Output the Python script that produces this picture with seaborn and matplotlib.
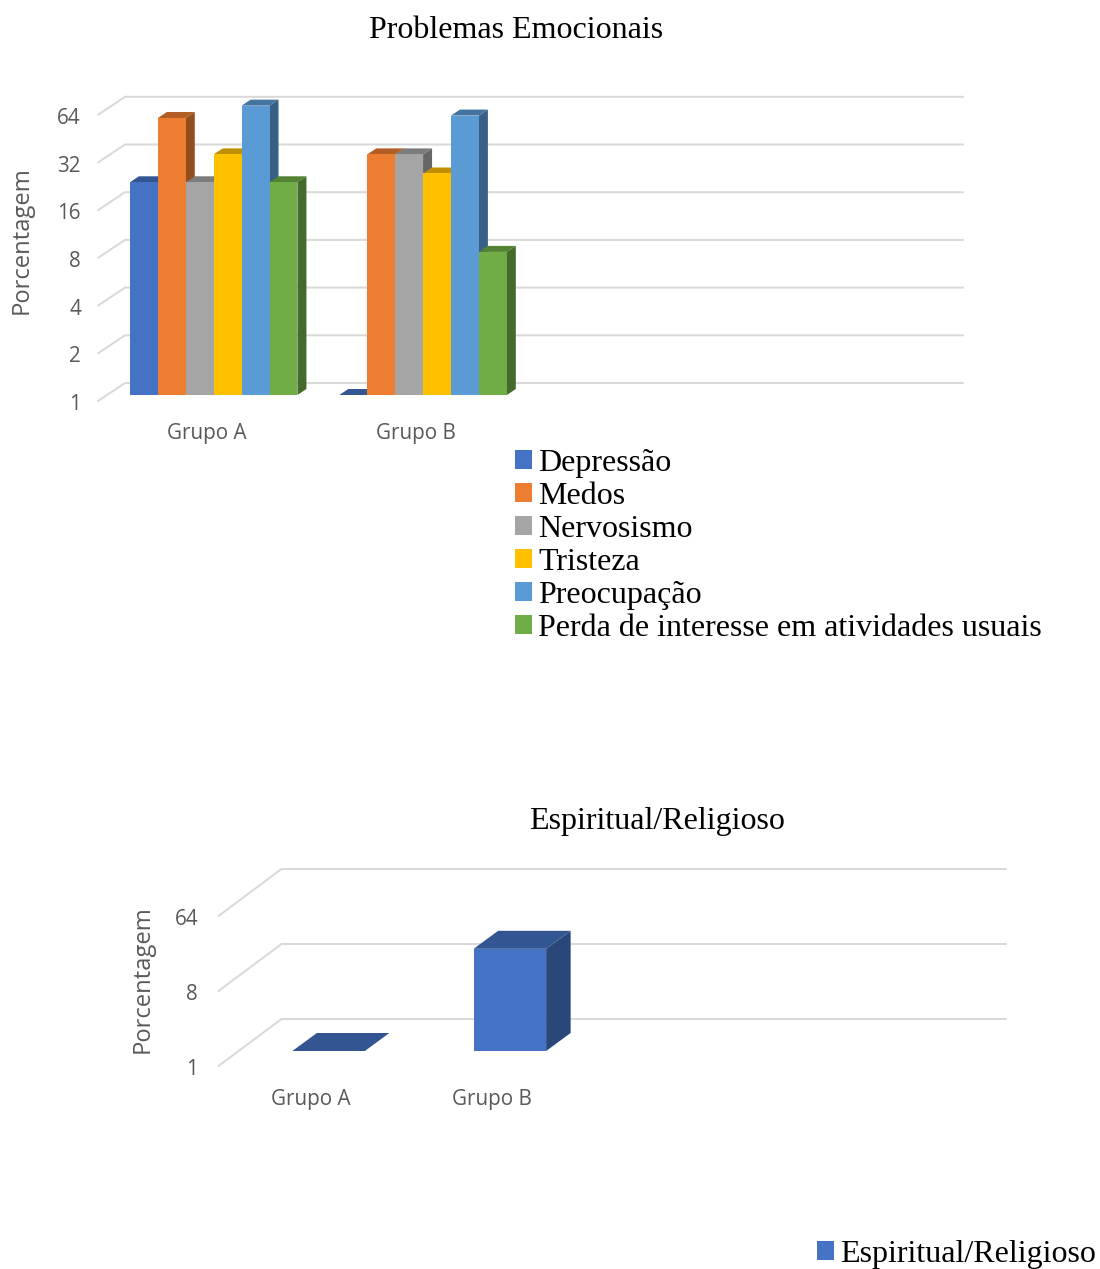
import matplotlib
matplotlib.use("Agg")
import matplotlib.pyplot as plt
import matplotlib.transforms as mtrans
from matplotlib.colors import to_rgb
from matplotlib.patches import Polygon
import pandas as pd
import seaborn as sns

W, H, DPI = 1100, 1269, 100
PX = 72 / DPI

# Emotional problems, percentage per group
groups = ["Grupo A", "Grupo B", "", " "]
problems = ["Depressão", "Medos", "Nervosismo", "Tristeza", "Preocupação",
            "Perda de interesse em atividades usuais"]
grupo_a = [22, 56, 22, 33, 67, 22]
grupo_b = [1, 33, 33, 25, 58, 8]
problem_colors = ["#4472C4", "#ED7D31", "#A5A5A5", "#FFC000", "#5B9BD5", "#70AD47"]
problem_ticks = [1, 2, 4, 8, 16, 32, 64]

# Spiritual / religious, percentage per group
spiritual_label = "Espiritual/Religioso"
spiritual_values = [1, 17]
spiritual_ticks = [1, 8, 64]

GRID = "#D9D9D9"
INK = "#595959"
SANS = "Open Sans"
SERIF = "Liberation Serif"
TICK_SIZE = 14.9
CAPTION_SIZE = 17.1
SERIF_SIZE = 23

sns.set_theme(style="white", rc={"font.family": SERIF})
fig = plt.figure(figsize=(W / DPI, H / DPI), dpi=DPI)


def shade(color, factor):
    r, g, b = to_rgb(color)
    return (r * factor, g * factor, b * factor)


def make_axes(left, right, top, bottom):
    ax = fig.add_axes([left / W, 1 - bottom / H, (right - left) / W, (bottom - top) / H])
    ax.patch.set_alpha(0)
    return ax


def px_offset(dx, dy):
    return mtrans.ScaledTranslation(dx / DPI, dy / DPI, fig.dpi_scale_trans)


def finish_panel(ax, ticks, top_value, depth, bar_depth, front_gap, right_end,
                 ytick_pad, xtick_pad, xlabel_dx, ylabel_dy):
    ax.set_yscale("log", base=2)
    ax.set_ylim(1, top_value)
    ax.set_xlim(-0.5, len(groups) - 0.5)
    ax.set_yticks(ticks, [str(t) for t in ticks])
    ax.minorticks_off()
    ax.set_xlabel("")
    ax.set_ylabel("")
    ax.grid(False)
    for spine in ax.spines.values():
        spine.set_visible(False)
    ax.tick_params(axis="y", length=0, pad=ytick_pad * PX, labelsize=TICK_SIZE, labelcolor=INK)
    ax.tick_params(axis="x", length=0, pad=xtick_pad * PX, labelsize=TICK_SIZE, labelcolor=INK)
    for lab in ax.get_yticklabels() + ax.get_xticklabels():
        lab.set_fontfamily(SANS)
    for lab in ax.get_yticklabels():
        lab.set_transform(lab.get_transform() + px_offset(0, ylabel_dy))
    for lab in ax.get_xticklabels():
        lab.set_transform(lab.get_transform() + px_offset(xlabel_dx, 0))

    # Floor/back-wall gridlines, expressed as display offsets from the bar plane
    to_px = ax.transData.transform
    (dx_back, dy_back), (dx_front, dy_front) = depth, front_gap
    x_left = ax.get_xlim()[0]
    for t in ticks:
        x0, y0 = to_px((x_left, t))
        pts = [(x0 - dx_front, y0 - dy_front), (x0 + dx_back, y0 + dy_back),
               (right_end, y0 + dy_back)]
        xs, ys = zip(*pts)
        ax.plot(xs, ys, color=GRID, lw=2 * PX, transform=mtrans.IdentityTransform(),
                clip_on=False, zorder=1, solid_joinstyle="miter")

    # Extruded faces; bars run left to right so each front hides its neighbour's side
    bdx, bdy = bar_depth
    for i, bar in enumerate(ax.patches):
        if bar.get_width() == 0 or pd.isna(bar.get_height()):
            continue
        x = bar.get_x()
        w = bar.get_width()
        top = bar.get_y() + bar.get_height()
        face = bar.get_facecolor()
        xl, yb = to_px((x, 1))
        xr, yt = to_px((x + w, top))
        base_z = 2 + i * 3
        if yt > yb:
            ax.add_patch(Polygon([(xr, yb), (xr + bdx, yb + bdy), (xr + bdx, yt + bdy), (xr, yt)],
                                 closed=True, fc=shade(face[:3], 0.62), lw=0,
                                 transform=mtrans.IdentityTransform(), clip_on=False, zorder=base_z))
        ax.add_patch(Polygon([(xl, yt), (xr, yt), (xr + bdx, yt + bdy), (xl + bdx, yt + bdy)],
                             closed=True, fc=shade(face[:3], 0.75), lw=0,
                             transform=mtrans.IdentityTransform(), clip_on=False, zorder=base_z))
        bar.set_zorder(base_z + 1)


LEGEND_STYLE = dict(frameon=False, title=None, ncol=1, fontsize=SERIF_SIZE, labelcolor="black",
                    handlelength=0.53, handleheight=0.53, handletextpad=0.2,
                    labelspacing=0.125, borderpad=0, borderaxespad=0)

# Upper panel
df_problems = pd.DataFrame({
    "Grupo": ["Grupo A"] * len(problems) + ["Grupo B"] * len(problems),
    "Problema": problems * 2,
    "Porcentagem": grupo_a + grupo_b,
})
ax1 = make_axes(109, 946.5, 61.1, 395)
sns.barplot(data=df_problems, x="Grupo", y="Porcentagem", hue="Problema", order=groups,
            hue_order=problems, palette=problem_colors, saturation=1, width=0.8, gap=0,
            linewidth=0, ax=ax1, log_scale=(False, 2))
finish_panel(ax1, problem_ticks, 128, depth=(16, 12), bar_depth=(9, 6), front_gap=(11, 6),
             right_end=963, ytick_pad=28, xtick_pad=28, xlabel_dx=-7, ylabel_dy=-7)
sns.move_legend(ax1, loc="upper left", bbox_to_anchor=(515 / W, 1 - 449 / H),
                bbox_transform=fig.transFigure, **LEGEND_STYLE)

# Lower panel
df_spiritual = pd.DataFrame({
    "Grupo": groups[:2],
    "Serie": [spiritual_label] * 2,
    "Porcentagem": spiritual_values,
})
ax2 = make_axes(238, 963, 826, 1051)
sns.barplot(data=df_spiritual, x="Grupo", y="Porcentagem", hue="Serie", order=groups,
            palette=["#4472C4"], saturation=1, width=0.4, gap=0, linewidth=0, ax=ax2,
            log_scale=(False, 2))
finish_panel(ax2, spiritual_ticks, 512, depth=(43.5, 32), bar_depth=(24.5, 18), front_gap=(19.5, 15),
             right_end=1006, ytick_pad=40, xtick_pad=38, xlabel_dx=-18, ylabel_dy=-16)
sns.move_legend(ax2, loc="upper left", bbox_to_anchor=(817 / W, 1 - 1240 / H),
                bbox_transform=fig.transFigure, **LEGEND_STYLE)

# Y-axis captions and panel titles
for ax, x, y in ((ax1, 22, 240), (ax2, 143, 979)):
    ax.set_ylabel("Porcentagem", fontfamily=SANS, fontsize=CAPTION_SIZE, color=INK)
    ax.yaxis.set_label_coords(x / W, 1 - y / H, transform=fig.transFigure)
    ax.yaxis.label.set_verticalalignment("center")

fig.text(516 / W, 1 - 31 / H, "Problemas Emocionais", ha="center", va="center",
         fontsize=SERIF_SIZE, color="black", fontfamily=SERIF)
fig.text(657 / W, 1 - 822 / H, "Espiritual/Religioso", ha="center", va="center",
         fontsize=SERIF_SIZE, color="black", fontfamily=SERIF)

fig.savefig("out.png", dpi=DPI)
